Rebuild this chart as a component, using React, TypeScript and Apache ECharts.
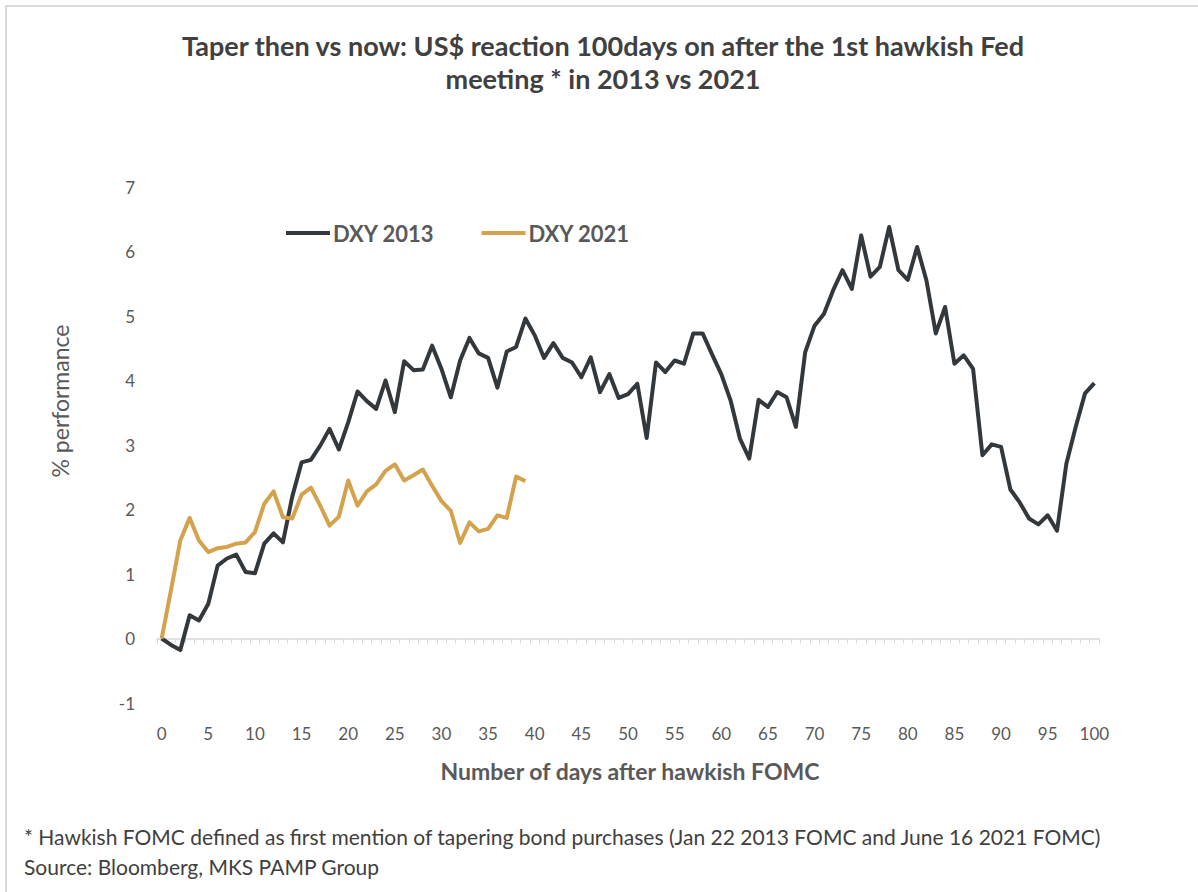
import React, { useEffect, useRef } from "react";
import * as echarts from "echarts";

const days: string[] = Array.from({ length: 101 }, (_, i) => String(i));

const dxy2013: number[] = [
  0, -0.1, -0.18, 0.36, 0.28, 0.54, 1.13, 1.24, 1.3, 1.03,
  1.01, 1.47, 1.63, 1.49, 2.2, 2.73, 2.77, 2.99, 3.25, 2.93,
  3.35, 3.83, 3.68, 3.56, 4.0, 3.51, 4.3, 4.16, 4.17, 4.54,
  4.18, 3.74, 4.31, 4.66, 4.42, 4.35, 3.89, 4.45, 4.52, 4.96,
  4.7, 4.35, 4.58, 4.35, 4.28, 4.05, 4.36, 3.82, 4.1, 3.73,
  3.79, 3.95, 3.11, 4.28, 4.13, 4.31, 4.26, 4.73, 4.73, 4.41,
  4.1, 3.69, 3.1, 2.79, 3.7, 3.59, 3.82, 3.74, 3.28, 4.44,
  4.85, 5.03, 5.4, 5.71, 5.42, 6.25, 5.61, 5.76, 6.38, 5.71,
  5.56, 6.07, 5.55, 4.73, 5.14, 4.26, 4.39, 4.18, 2.84, 3.01,
  2.97, 2.31, 2.11, 1.86, 1.77, 1.91, 1.67, 2.71, 3.28, 3.8,
  3.96,
];

const dxy2021: number[] = [
  0, 0.75, 1.52, 1.87, 1.52, 1.34, 1.4, 1.42, 1.47, 1.49,
  1.65, 2.09, 2.28, 1.88, 1.86, 2.23, 2.34, 2.06, 1.75, 1.89,
  2.45, 2.06, 2.28, 2.39, 2.6, 2.7, 2.45, 2.53, 2.62, 2.37,
  2.13, 1.98, 1.48, 1.8, 1.66, 1.7, 1.91, 1.87, 2.51, 2.44,
];

const titleText = "Taper then vs now: US$ reaction 100days on after the 1st hawkish Fed\nmeeting * in 2013 vs 2021";
const xAxisTitle = "Number of days after hawkish FOMC";
const yAxisTitle = "% performance";
const footnote1 = "* Hawkish FOMC defined as first mention of tapering bond purchases (Jan 22 2013 FOMC and June 16 2021 FOMC)";
const footnote2 = "Source: Bloomberg, MKS PAMP Group";

const FONT = "Lato";
const DARK = "#33383c";
const GOLD = "#d4a24c";
const TXT = "#595959";

export default function App() {
  const ref = useRef<HTMLDivElement>(null);
  useEffect(() => {
    if (!ref.current) return;
    const chart = echarts.init(ref.current, null, { renderer: "svg" });
    chart.setOption({
      animation: false,
      backgroundColor: "#ffffff",
      textStyle: { fontFamily: FONT },
      grid: { left: 157, right: 99, top: 187, bottom: 189, containLabel: false },
      legend: {
        left: 286,
        top: 222,
        padding: 0,
        itemWidth: 44,
        itemHeight: 4,
        itemGap: 47,
        icon: "rect",
        textStyle: { fontFamily: FONT, fontSize: 22, fontWeight: "bold", color: TXT, padding: [0, 0, 0, -2] },
        data: ["DXY 2013", "DXY 2021"],
      },
      xAxis: [
        {
          type: "category",
          data: days,
          position: "bottom",
          boundaryGap: true,
          axisLine: { onZero: true, lineStyle: { color: "#d9d9d9", width: 1.5 } },
          axisTick: { show: true, interval: 0, length: 5, lineStyle: { color: "#d9d9d9" } },
          axisLabel: { show: false },
          splitLine: { show: false },
        },
        {
          type: "category",
          data: days,
          position: "bottom",
          boundaryGap: true,
          axisLine: { show: false, onZero: false },
          axisTick: { show: false },
          axisLabel: {
            show: true,
            interval: 4,
            margin: 22,
            fontFamily: FONT,
            fontSize: 17,
            color: TXT,
          },
          splitLine: { show: false },
        },
      ],
      yAxis: {
        type: "value",
        min: -1,
        max: 7,
        interval: 1,
        axisLine: { show: false },
        axisTick: { show: false },
        splitLine: { show: false },
        axisLabel: { margin: 22, fontFamily: FONT, fontSize: 17, color: TXT },
      },
      series: [
        {
          name: "DXY 2013",
          type: "line",
          xAxisIndex: 0,
          data: dxy2013,
          symbol: "none",
          color: DARK,
          lineStyle: { color: DARK, width: 4, join: "round" },
        },
        {
          name: "DXY 2021",
          type: "line",
          xAxisIndex: 0,
          data: dxy2021,
          symbol: "none",
          color: GOLD,
          lineStyle: { color: GOLD, width: 4, join: "round" },
        },
      ],
      graphic: [
        {
          type: "rect",
          shape: { x: 6, y: 6, width: 1400, height: 1100 },
          style: { fill: "none", stroke: "#d9d9d9", lineWidth: 2 },
          silent: true,
        },
        {
          type: "text",
          x: 603,
          y: 62,
          style: {
            text: titleText,
            fontFamily: FONT,
            fontSize: 27,
            fontWeight: "bold",
            fill: "#404040",
            align: "center",
            verticalAlign: "middle",
            lineHeight: 33,
          },
        },
        {
          type: "text",
          x: 60,
          y: 401,
          rotation: Math.PI / 2,
          style: {
            text: yAxisTitle,
            fontFamily: FONT,
            fontSize: 23,
            fill: TXT,
            align: "center",
            verticalAlign: "middle",
          },
        },
        {
          type: "text",
          x: 630,
          y: 771,
          style: {
            text: xAxisTitle,
            fontFamily: FONT,
            fontSize: 23,
            fontWeight: "bold",
            fill: TXT,
            align: "center",
            verticalAlign: "middle",
          },
        },
        {
          type: "text",
          x: 24,
          y: 836,
          style: {
            text: footnote1,
            fontFamily: FONT,
            fontSize: 21,
            fill: "#404040",
            align: "left",
            verticalAlign: "middle",
          },
        },
        {
          type: "text",
          x: 24,
          y: 866,
          style: {
            text: footnote2,
            fontFamily: FONT,
            fontSize: 21,
            fill: "#404040",
            align: "left",
            verticalAlign: "middle",
          },
        },
      ],
    });
    return () => chart.dispose();
  }, []);
  return (
    <div
      ref={ref}
      style={{ position: "absolute", left: 0, top: 0, width: 1198, height: 892, background: "#fff" }}
    />
  );
}
